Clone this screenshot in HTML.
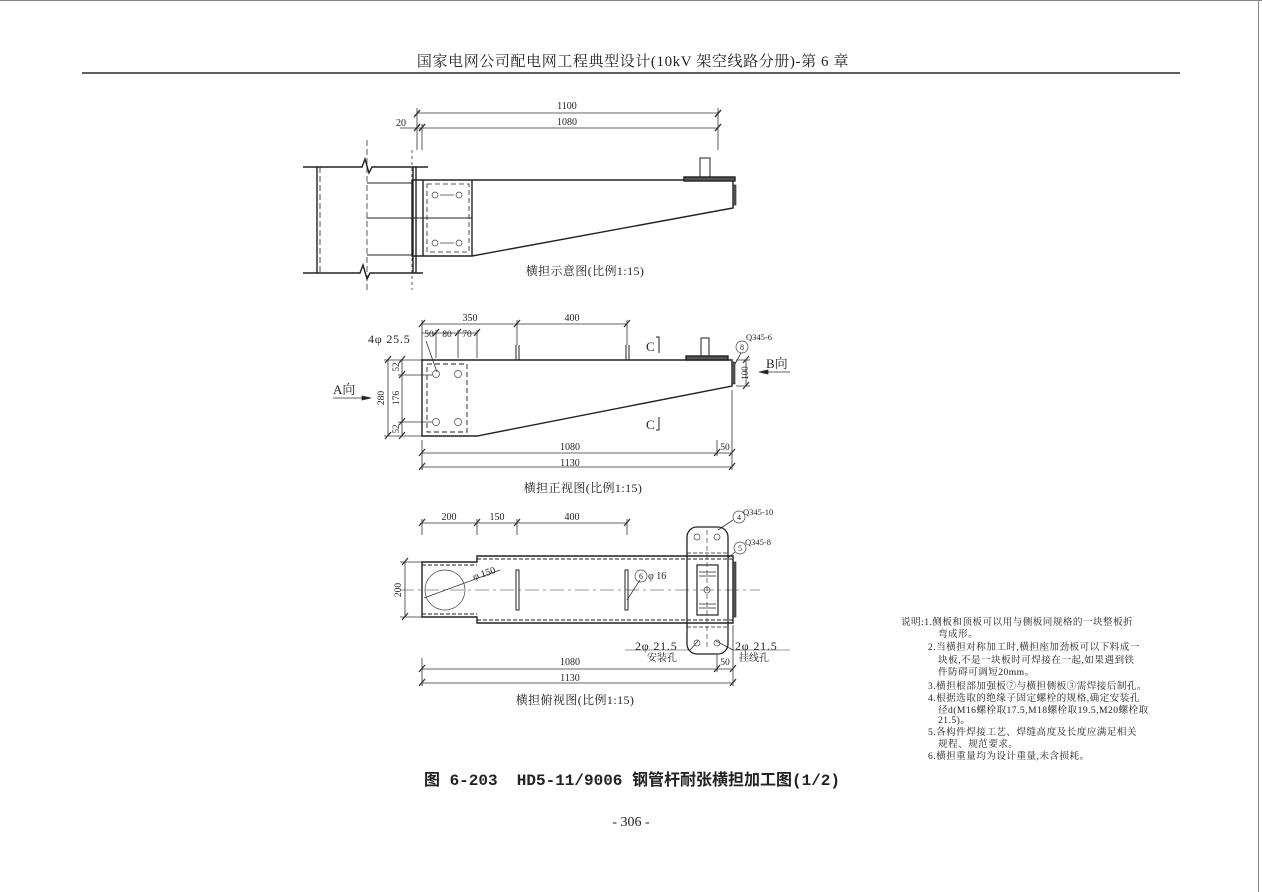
<!DOCTYPE html>
<html><head><meta charset="utf-8"><style>
html,body{margin:0;padding:0;background:#fff}
svg{display:block}
text{font-family:"Liberation Serif","Noto Serif CJK SC","Noto Sans CJK SC",serif;fill:#222}
</style></head><body>
<svg width="1262" height="892" viewBox="0 0 1262 892" xmlns="http://www.w3.org/2000/svg">
<g stroke="#333" fill="none" stroke-width="1">
<line x1="0" y1="0.5" x2="1262" y2="0.5" stroke="#888"/>
<line x1="1258.5" y1="0" x2="1258.5" y2="892" stroke="#888"/>
<line x1="82" y1="73" x2="1180" y2="73" stroke="#000" stroke-width="1.3"/>
</g>
<text x="633" y="66" font-size="15" text-anchor="middle" letter-spacing="0.6">国家电网公司配电网工程典型设计(10kV 架空线路分册)-第 6 章</text>

<!-- VIEW 1 -->
<g stroke="#333" fill="none" stroke-width="0.8">
<line x1="417" y1="113" x2="718" y2="113"/><line x1="400" y1="128" x2="718" y2="128"/>
<line x1="417" y1="108" x2="417" y2="150"/><line x1="422" y1="124" x2="422" y2="150"/><line x1="718" y1="108" x2="718" y2="150"/>
<path d="M414 117l6-7M414 131l6-7M419 131l6-7M715 117l6-7M715 131l6-7" stroke-width="1.4"/>
<line x1="367" y1="140" x2="367" y2="290" stroke-dasharray="6,3"/>
<line x1="412" y1="150" x2="412" y2="290" stroke-dasharray="3,3"/>
</g>
<g stroke="#222" fill="none" stroke-width="1.4">
<path d="M303 167H362l3-8 4 14 3-6H428"/>
<path d="M303 273H360l3-8 4 14 3-6H423"/>
<line x1="317" y1="167" x2="317" y2="273"/><line x1="320" y1="167" x2="320" y2="273" stroke-dasharray="6,3" stroke-width="0.8"/>
<line x1="413" y1="167" x2="413" y2="273"/><line x1="416" y1="167" x2="416" y2="273"/>
<path d="M367 183H412M367 218H472M367 255H412" stroke-width="1"/>
<path d="M412 180H733V208L472 256H412Z"/>
<line x1="423" y1="180" x2="423" y2="256"/>
<line x1="472" y1="180" x2="472" y2="256"/>
<rect x="427" y="184" width="42" height="68" stroke-dasharray="5,3" stroke-width="0.8"/>
<rect x="700" y="158" width="10" height="20" stroke-width="1"/>
<rect x="684" y="177" width="51" height="4" fill="#555"/>
<rect x="733" y="185" width="3" height="20" fill="#555" stroke-width="0.6"/>
</g>
<g stroke="#444" fill="none" stroke-width="0.7">
<circle cx="435" cy="195" r="3"/><circle cx="459" cy="195" r="3"/><circle cx="435" cy="243" r="3"/><circle cx="459" cy="243" r="3"/>
<path d="M440 195H454M440 243H454"/>
</g>
<text x="567" y="109" font-size="10" text-anchor="middle">1100</text>
<text x="567" y="125" font-size="10" text-anchor="middle">1080</text>
<text x="401" y="126" font-size="10" text-anchor="middle">20</text>
<text x="585" y="275" font-size="12" text-anchor="middle" letter-spacing="0.4">横担示意图(比例1:15)</text>

<!-- VIEW 2 -->
<g stroke="#333" fill="none" stroke-width="0.8">
<line x1="422" y1="324" x2="627" y2="324"/><line x1="422" y1="333" x2="477" y2="333"/>
<line x1="422" y1="320" x2="422" y2="360"/><line x1="517" y1="320" x2="517" y2="345"/><line x1="627" y1="320" x2="627" y2="345"/>
<line x1="436" y1="330" x2="436" y2="358"/><line x1="458" y1="330" x2="458" y2="358"/><line x1="477" y1="330" x2="477" y2="358"/>
<path d="M419 327l6-7M514 327l6-7M624 327l6-7M433 336l6-7M455 336l6-7M474 336l6-7" stroke-width="1.3"/>
<line x1="388" y1="360" x2="388" y2="436"/><line x1="402" y1="360" x2="402" y2="436"/>
<path d="M384 360H422M398 375H432M398 422H432M384 436H422"/>
<path d="M385 363l6-7M399 363l6-7M399 378l6-7M399 425l6-7M385 439l6-7M399 439l6-7" stroke-width="1.3"/>
<path d="M333 398H368" /><path d="M362 396l9 2-9 2z" fill="#222"/>
<path d="M790 372H765"/><path d="M768 370l-9 2 9 2z" fill="#222"/>
<line x1="746" y1="360" x2="746" y2="386"/><path d="M736 360H750M736 386H750"/>
<path d="M743 363l6-7M743 389l6-7" stroke-width="1.3"/>
<line x1="422" y1="440" x2="422" y2="470"/><line x1="717" y1="440" x2="717" y2="456"/><line x1="732" y1="390" x2="732" y2="470"/>
<line x1="422" y1="453" x2="732" y2="453"/><line x1="422" y1="467" x2="732" y2="467"/>
<path d="M419 456l6-7M714 456l6-7M729 456l6-7M419 470l6-7M729 470l6-7" stroke-width="1.3"/>
<line x1="426" y1="341" x2="437" y2="372"/>
<line x1="741" y1="353" x2="735" y2="364"/>
</g>
<g stroke="#222" fill="none" stroke-width="1.4">
<path d="M422 360H732V386L477 436H422Z"/>
<path d="M516 345v15M519 345v15M626 345v15M629 345v15" stroke-width="1"/>
<rect x="701" y="338" width="8" height="18" stroke-width="1"/>
<rect x="686" y="356" width="42" height="4" fill="#555"/>
<rect x="732" y="362" width="3" height="22" fill="#555" stroke-width="0.6"/>
<rect x="427" y="364" width="40" height="68" stroke-dasharray="5,3" stroke-width="0.9"/>
<path d="M656 337h3v16M659 417v13h-3" stroke-width="1"/>
</g>
<g stroke="#444" fill="none" stroke-width="0.7">
<circle cx="436" cy="374" r="3.5"/><circle cx="458" cy="374" r="3.5"/><circle cx="436" cy="422" r="3.5"/><circle cx="458" cy="422" r="3.5"/>
<circle cx="742" cy="347" r="6"/>
</g>
<text x="470" y="321" font-size="10" text-anchor="middle">350</text>
<text x="572" y="321" font-size="10" text-anchor="middle">400</text>
<text x="429" y="337" font-size="9.5" text-anchor="middle">50</text>
<text x="447" y="337" font-size="9.5" text-anchor="middle">80</text>
<text x="467" y="337" font-size="9.5" text-anchor="middle">70</text>
<text x="368" y="343" font-size="12" letter-spacing="0.8">4φ 25.5</text>
<text x="333" y="394" font-size="13">A向</text>
<text x="766" y="368" font-size="13">B向</text>
<text x="746" y="340" font-size="8.5">Q345-6</text>
<text x="742" y="350" font-size="8" text-anchor="middle">8</text>
<text x="646" y="351" font-size="13">C</text>
<text x="646" y="429" font-size="13">C</text>
<text transform="translate(384,398) rotate(-90)" font-size="9.5" text-anchor="middle">280</text>
<text transform="translate(399,398) rotate(-90)" font-size="9.5" text-anchor="middle">176</text>
<text transform="translate(399,367) rotate(-90)" font-size="9" text-anchor="middle">52</text>
<text transform="translate(399,429) rotate(-90)" font-size="9" text-anchor="middle">52</text>
<text transform="translate(748,373) rotate(-90)" font-size="9" text-anchor="middle">100</text>
<text x="570" y="450" font-size="10" text-anchor="middle">1080</text>
<text x="725" y="450" font-size="9.5" text-anchor="middle">50</text>
<text x="570" y="466" font-size="10" text-anchor="middle">1130</text>
<text x="583" y="492" font-size="12" text-anchor="middle" letter-spacing="0.4">横担正视图(比例1:15)</text>

<!-- VIEW 3 -->
<g stroke="#333" fill="none" stroke-width="0.8">
<line x1="422" y1="523" x2="627" y2="523"/>
<line x1="422" y1="519" x2="422" y2="535"/><line x1="477" y1="519" x2="477" y2="535"/><line x1="517" y1="519" x2="517" y2="535"/><line x1="627" y1="519" x2="627" y2="535"/>
<path d="M419 526l6-7M474 526l6-7M514 526l6-7M624 526l6-7" stroke-width="1.3"/>
<line x1="405" y1="562" x2="405" y2="617"/><path d="M400 562H422M400 617H422"/>
<path d="M402 565l6-7M402 620l6-7" stroke-width="1.3"/>
<line x1="400" y1="590" x2="760" y2="590" stroke-dasharray="14,4,3,4" stroke-width="0.6"/>
<line x1="422" y1="658" x2="422" y2="686"/><line x1="717" y1="655" x2="717" y2="672"/><line x1="733" y1="625" x2="733" y2="686"/>
<line x1="422" y1="669" x2="733" y2="669"/><line x1="422" y1="683" x2="733" y2="683"/>
<path d="M419 672l6-7M714 672l6-7M730 672l6-7M419 686l6-7M730 686l6-7" stroke-width="1.3"/>
<line x1="424" y1="598" x2="500" y2="570"/>
<line x1="627" y1="600" x2="640" y2="580"/>
<line x1="698" y1="641" x2="690" y2="650"/><line x1="716" y1="641" x2="733" y2="650"/>
<path d="M625 650H690M733 650H790" stroke-width="0.6"/>
<line x1="718" y1="530" x2="733" y2="520"/><line x1="728" y1="558" x2="735" y2="552"/>
</g>
<g stroke="#222" fill="none" stroke-width="1.4">
<path d="M422 562H477V556H733V623H477V617H422Z"/>
<path d="M422 565H477M422 614H477M477 559H733M477 620H733" stroke-dasharray="4,2" stroke-width="1"/>
<rect x="516" y="570" width="3" height="40" stroke-width="1"/>
<rect x="625" y="570" width="3" height="40" stroke-width="1"/>
<rect x="687" y="527" width="41" height="127" rx="10" stroke-width="1.3"/>
<rect x="697" y="565" width="21" height="50" stroke-width="1.2"/>
<path d="M699 572h17M699 576h17M699 604h17M699 608h17" stroke-width="0.8"/>
<path d="M687 553h41M687 627h41" stroke-dasharray="4,2" stroke-width="0.8"/>
<rect x="733" y="562" width="3" height="55" fill="#555" stroke-width="0.6"/>
</g>
<g stroke="#444" fill="none" stroke-width="0.7">
<circle cx="445" cy="590" r="20"/>
<circle cx="697" cy="537" r="3"/><circle cx="717" cy="537" r="3"/><circle cx="697" cy="643" r="3"/><circle cx="717" cy="643" r="3"/><circle cx="707" cy="590" r="3"/>
<line x1="707" y1="530" x2="707" y2="650" stroke-dasharray="5,3"/>
<circle cx="739" cy="517" r="6"/><circle cx="740" cy="548" r="6"/><circle cx="641" cy="576" r="6"/>
</g>
<text x="449" y="520" font-size="10" text-anchor="middle">200</text>
<text x="497" y="520" font-size="10" text-anchor="middle">150</text>
<text x="572" y="520" font-size="10" text-anchor="middle">400</text>
<text transform="translate(401,590) rotate(-90)" font-size="9.5" text-anchor="middle">200</text>
<text transform="translate(474,580) rotate(-18)" font-size="10">φ 150</text>
<text x="648" y="579" font-size="10">φ 16</text>
<text x="739" y="520" font-size="8" text-anchor="middle">4</text>
<text x="740" y="551" font-size="8" text-anchor="middle">5</text>
<text x="641" y="579" font-size="8" text-anchor="middle">6</text>
<text x="743" y="515" font-size="8.5">Q345-10</text>
<text x="745" y="545" font-size="8.5">Q345-8</text>
<text x="635" y="650" font-size="12" letter-spacing="0.8">2φ 21.5</text>
<text x="647" y="661" font-size="10">安装孔</text>
<text x="735" y="650" font-size="12" letter-spacing="0.8">2φ 21.5</text>
<text x="739" y="661" font-size="10">挂线孔</text>
<text x="570" y="665" font-size="10" text-anchor="middle">1080</text>
<text x="725" y="665" font-size="9.5" text-anchor="middle">50</text>
<text x="570" y="681" font-size="10" text-anchor="middle">1130</text>
<text x="575" y="704" font-size="12" text-anchor="middle" letter-spacing="0.4">横担俯视图(比例1:15)</text>

<!-- NOTES -->
<g font-size="9.6" letter-spacing="0.45">
<text x="901" y="625">说明:1.侧板和顶板可以用与侧板同规格的一块整板折</text>
<text x="938" y="637">弯成形。</text>
<text x="928" y="650">2.当横担对称加工时,横担座加劲板可以下料成一</text>
<text x="938" y="663">块板,不是一块板时可焊接在一起,如果遇到铁</text>
<text x="938" y="675">件防碍可调短20mm。</text>
<text x="928" y="689">3.横担根部加强板⑦与横担侧板③需焊接后制孔。</text>
<text x="928" y="701">4.根据选取的绝缘子固定螺栓的规格,确定安装孔</text>
<text x="938" y="713">径d(M16螺栓取17.5,M18螺栓取19.5,M20螺栓取</text>
<text x="938" y="723">21.5)。</text>
<text x="928" y="735">5.各构件焊接工艺、焊缝高度及长度应满足相关</text>
<text x="938" y="747">规程、规范要求。</text>
<text x="928" y="759">6.横担重量均为设计重量,未含损耗。</text>
</g>
<text x="632" y="785" font-size="16" font-weight="bold" text-anchor="middle" xml:space="preserve" style="font-family:'Liberation Mono','Noto Sans CJK SC',monospace">图 6-203  HD5-11/9006 钢管杆耐张横担加工图(1/2)</text>
<text x="631" y="826" font-size="14" text-anchor="middle">- 306 -</text>
</svg>
</body></html>
